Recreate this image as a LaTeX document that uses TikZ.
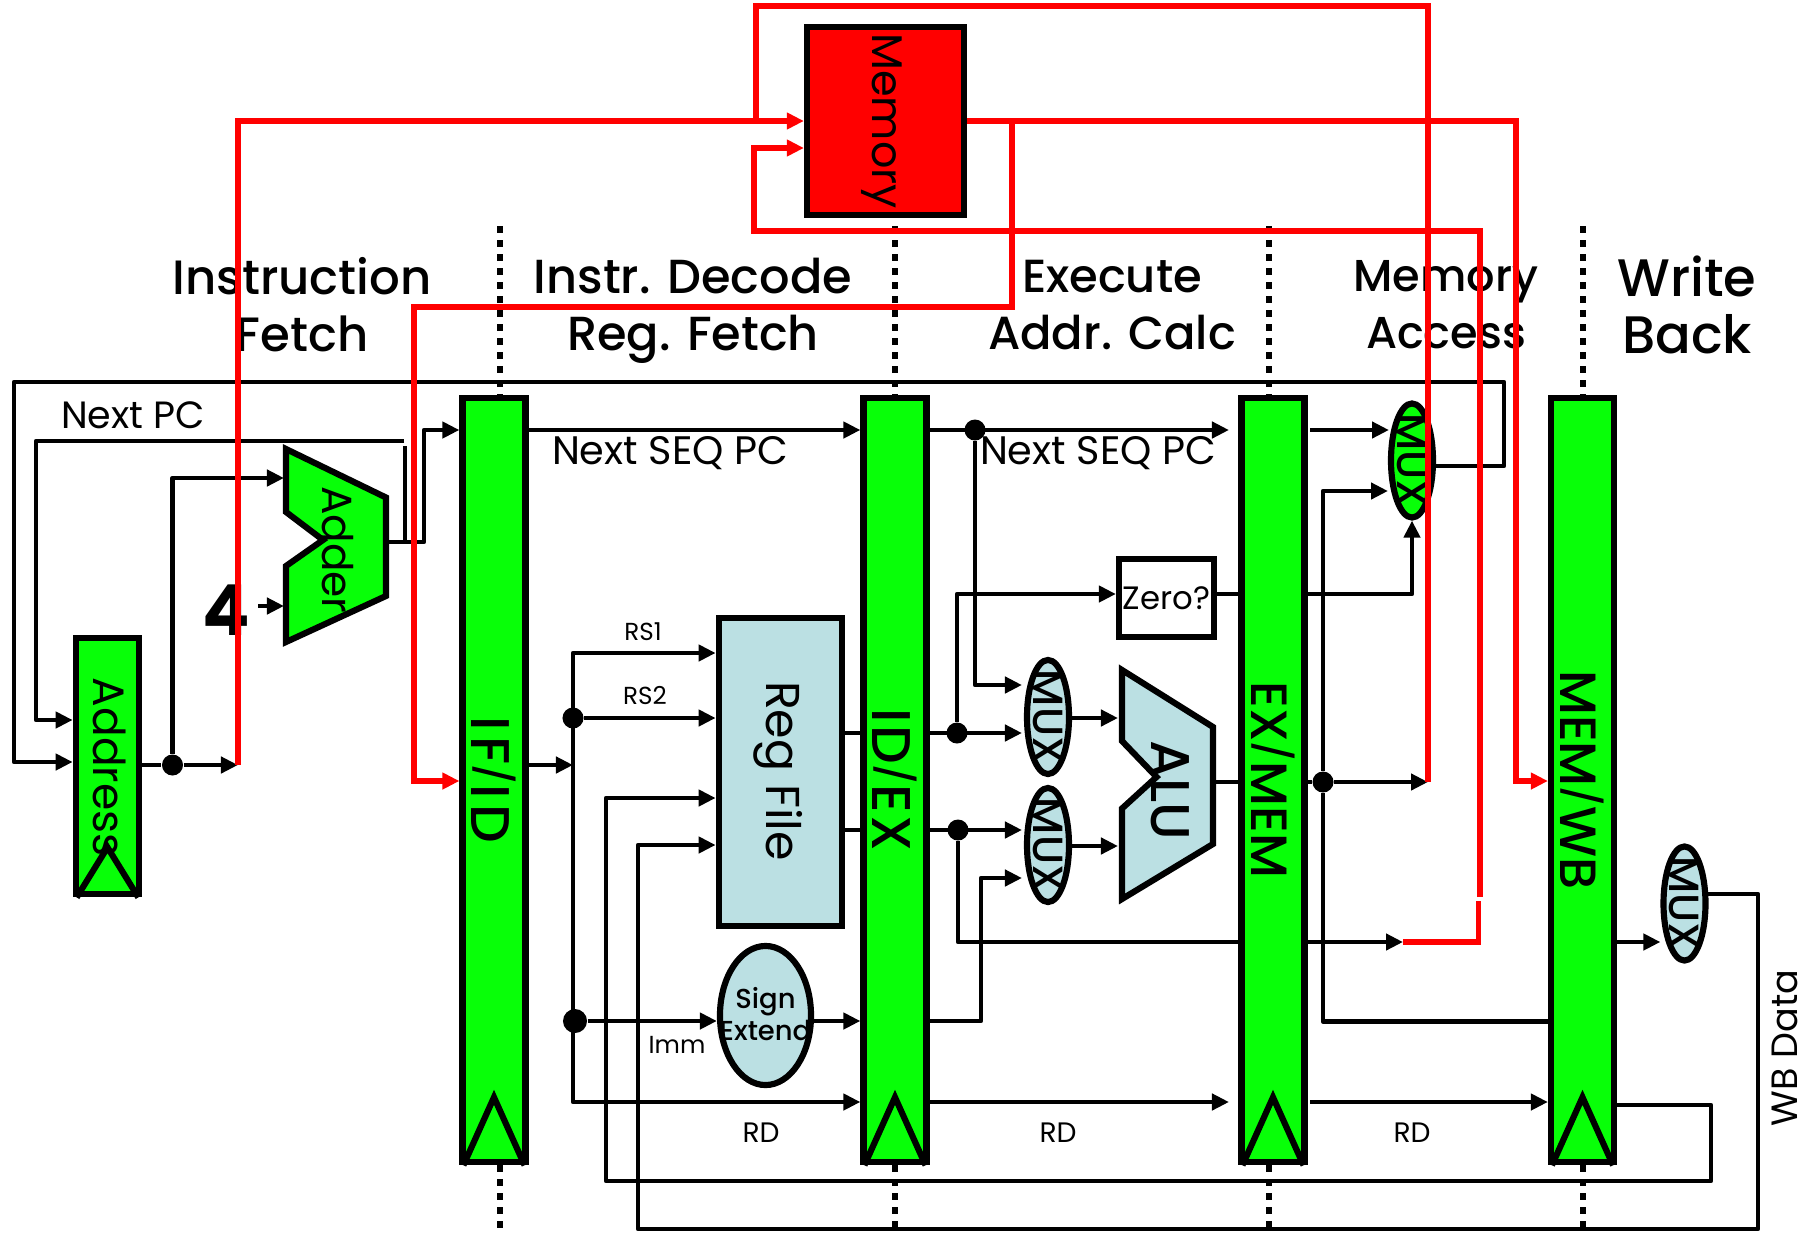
\documentclass[tikz,border=0pt]{standalone}
\usepackage{xcolor}
\usepackage{fontspec}
\setmainfont{Poppins}
\newfontfamily\medfont{Poppins Medium}
\usetikzlibrary{arrows.meta,shapes.geometric}

\definecolor{stagegreen}{RGB}{8,255,8}
\definecolor{paleblue}{RGB}{187,224,227}

\tikzset{
        wire/.style={draw, line width=1.35pt, line join=round},
        arrow/.style={wire, -{Triangle[length=0.17cm,width=0.16cm]}},
        redwire/.style={draw=red, line width=1.6pt, line join=miter},
        redarrow/.style={redwire, -{Triangle[length=0.17cm,width=0.16cm]}},
        sepline/.style={draw, line width=1.7pt, dash pattern=on 0.07cm off 0.07cm},
        dot/.style={circle, fill=black, inner sep=0pt, minimum size=0.21cm},
        unit/.style={draw, line width=1.75pt, line join=miter},
        reg/.style={unit, rectangle, fill=stagegreen, minimum width=0.63cm, minimum height=7.64cm},
        mux/.style={unit, ellipse, inner sep=0pt, minimum width=0.42cm, minimum height=1.14cm},
        muxtext/.style={rotate=-90, font=\medfont\fontsize{12}{12}\selectfont},
        regtext/.style={rotate=-90, font=\medfont\fontsize{14.5}{14.5}\selectfont},
        stagetext/.style={align=center, font=\medfont\fontsize{13.6}{16.2}\selectfont},
        smalltext/.style={font=\fontsize{7}{7}\selectfont},
        midtext/.style={font=\fontsize{10.8}{10.8}\selectfont}
}

\newcommand{\clktri}[2]{\draw[unit] ([xshift=0.04cm]#1.south west) -- ([yshift=#2]#1.south) -- ([xshift=-0.04cm]#1.south east);}
\newcommand{\regslash}{\raisebox{0.14em}{\fontsize{11}{11}\selectfont/}}

\begin{document}
\begin{tikzpicture}[x=0.01cm,y=-0.01cm]
        \useasboundingbox (0,0) rectangle (1808,1233);

        \coordinate (septop) at (0,226);
        \coordinate (sepbot) at (0,1233);

        \node[reg] (ifid) at (494,780) {};
        \node[reg] (idex) at (895,780) {};
        \node[reg] (exmem) at (1273,780) {};
        \node[reg] (memwb) at (1582.5,780) {};

        \node[unit, rectangle, fill=stagegreen, minimum width=0.635cm, minimum height=2.565cm] (pcreg) at (107.5,766) {};
        \node[unit, rectangle, fill=paleblue, minimum width=1.235cm, minimum height=3.085cm] (regfile) at (780.5,772) {};
        \node[unit, rectangle, fill=red, minimum width=1.57cm, minimum height=1.88cm] (memory) at (885.5,121) {};
        \node[unit, rectangle, minimum width=0.95cm, minimum height=0.78cm, inner sep=0pt, font=\fontsize{9.2}{9.2}\selectfont] (zero) at (1166.5,598) {Zero?};
        \node[unit, ellipse, fill=paleblue, inner sep=0pt, minimum width=0.91cm, minimum height=1.39cm] (signext) at (765.5,1015.5) {};

        \node[mux, fill=stagegreen] (muxpc) at (1412,460.5) {};
        \node[mux, fill=paleblue] (muxa) at (1048,717) {};
        \node[mux, fill=paleblue] (muxb) at (1048,845) {};
        \node[mux, fill=paleblue] (muxwb) at (1684.5,903.5) {};

        \draw[unit, fill=stagegreen] (286,449) -- (386,497.5) -- (386,596) -- (286,642) -- (286,566) -- (323,540) -- (286,512) -- cycle;
        \draw[unit, fill=paleblue] (1122,670) -- (1213,727) -- (1213,844) -- (1122,899) -- (1122,808.5) -- (1156.5,777) -- (1122,741) -- cycle;

        \clktri{ifid}{0.68cm}
        \clktri{idex}{0.68cm}
        \clktri{exmem}{0.68cm}
        \clktri{memwb}{0.68cm}
        \clktri{pcreg}{0.5cm}

        \draw[sepline] ([xshift=0.06cm]ifid.north |- septop) -- ([xshift=0.06cm]ifid.north);
        \draw[sepline] ([xshift=0.06cm]ifid.south) -- ([xshift=0.06cm]ifid.south |- sepbot);
        \draw[sepline] (idex.north |- septop) -- (idex.north);
        \draw[sepline] (idex.south) -- (idex.south |- sepbot);
        \draw[sepline] ([xshift=-0.04cm]exmem.north |- septop) -- ([xshift=-0.04cm]exmem.north);
        \draw[sepline] ([xshift=-0.04cm]exmem.south) -- ([xshift=-0.04cm]exmem.south |- sepbot);
        \draw[sepline] (memwb.north |- septop) -- (memwb.north);
        \draw[sepline] (memwb.south) -- (memwb.south |- sepbot);

        \node[dot] (pcdot) at (172.5,765) {};
        \node[dot] (seqdot) at (975,430) {};
        \node[dot] (rsadot) at (957,733) {};
        \node[dot] (rsbdot) at (958,830) {};
        \node[dot] (aludot) at (1323,782) {};
        \node[dot] (rstwodot) at (573,718) {};
        \node[dot, minimum size=0.24cm] (immdot) at (575,1021) {};

        \coordinate (looptr) at (1504,382);
        \coordinate (looptl) at (14,382);
        \coordinate (branchy) at (0,466);
        \coordinate (addry) at (0,762);
        \coordinate (nextpcend) at (404,441);
        \coordinate (nextpcleft) at (36,441);
        \coordinate (nextpcy) at (0,720);
        \coordinate (stubtop) at (405,446);
        \coordinate (stubbot) at (405,542);
        \coordinate (adderout) at (386,542);
        \coordinate (addercorner) at (424,542);
        \coordinate (seqy) at (0,430);
        \coordinate (addera) at (284,478);
        \coordinate (adderb) at (284,606);
        \coordinate (fourout) at (258,606);
        \coordinate (redleft) at (238,765);
        \coordinate (redtop) at (238,121);
        \coordinate (spine) at (573,765);
        \coordinate (rsoney) at (0,653);
        \coordinate (rdy) at (0,1102);
        \coordinate (writea) at (606,798);
        \coordinate (writeb) at (638,845);
        \coordinate (rdback) at (1711,1105);
        \coordinate (rdbottom) at (606,1181);
        \coordinate (wbout) at (1708,894);
        \coordinate (wbright) at (1758,894);
        \coordinate (wbbottom) at (638,1229);
        \coordinate (muxaa) at (1022,685);
        \coordinate (muxab) at (1022,733);
        \coordinate (muxba) at (1022,830);
        \coordinate (muxbb) at (1022,878);
        \coordinate (bypass) at (981,878);
        \coordinate (aluina) at (1118,718);
        \coordinate (aluinb) at (1118,846);
        \coordinate (aluout) at (1213,782);
        \coordinate (zeroy) at (0,594);
        \coordinate (seqend) at (1229,430);
        \coordinate (muxpca) at (1389,430);
        \coordinate (muxpcb) at (1388,491);
        \coordinate (exseq) at (1310,430);
        \coordinate (redalu) at (1428,782);
        \coordinate (redwbend) at (1403,942);
        \coordinate (wbrail) at (0,1021.5);
        \coordinate (muxwbin) at (0,942);
        \coordinate (rdend) at (1229,1102);
        \coordinate (exrd) at (1310,1102);

        \draw[arrow] (muxpc.east |- branchy) -| (looptr) -- (looptl) |- (pcreg.west |- addry);
        \draw[arrow] (nextpcend) -- (nextpcleft) |- (pcreg.west |- nextpcy);
        \draw[wire] (stubtop) -- (stubbot);
        \draw[arrow] (adderout) -- (addercorner) |- (ifid.west |- seqy);
        \draw[wire] (pcreg.east |- pcdot) -- (pcdot);
        \draw[arrow] (pcdot) -- (redleft);
        \draw[arrow] (pcdot) |- (addera);
        \draw[arrow] (fourout) -- (adderb);

        \draw[arrow] (ifid.east |- seqy) -- (idex.west |- seqy);
        \draw[arrow] (ifid.east |- spine) -- (spine);
        \draw[arrow] (spine) |- (regfile.west |- rsoney);
        \draw[arrow] (spine) |- (idex.west |- rdy);
        \draw[arrow] (rstwodot) -- (regfile.west |- rstwodot);
        \draw[arrow] (immdot) -- (signext.west |- immdot);
        \draw[arrow] (signext.east |- immdot) -- (idex.west |- immdot);
        \draw[arrow] (memwb.east |- rdback) -- (rdback) |- (rdbottom) |- (regfile.west |- writea);
        \draw[arrow] (wbout) -- (wbright) |- (wbbottom) |- (regfile.west |- writeb);
        \draw[wire] (regfile.east |- rsadot) -- (idex.west |- rsadot);
        \draw[wire] (regfile.east |- rsbdot) -- (idex.west |- rsbdot);

        \draw[arrow] (idex.east |- seqdot) -- (seqend);
        \draw[arrow] (seqdot) |- (muxaa);
        \draw[arrow] (idex.east |- rsadot) -- (muxab);
        \draw[arrow] (rsadot) |- (zero.west |- zeroy);
        \draw[arrow] (idex.east |- rsbdot) -- (muxba);
        \draw[wire] (rsbdot) |- (exmem.west |- redwbend);
        \draw[arrow] (idex.east |- immdot) -| (bypass) -- (muxbb);
        \draw[arrow] (muxa.east |- aluina) -- (aluina);
        \draw[arrow] (muxb.east |- aluinb) -- (aluinb);
        \draw[wire] (aluout) -- (exmem.west |- aluout);
        \draw[wire] (zero.east |- zeroy) -- (exmem.west |- zeroy);
        \draw[arrow] (idex.east |- rdy) -- (rdend);

        \draw[arrow] (exseq) -- (muxpca);
        \draw[arrow] (aludot) |- (muxpcb);
        \draw[wire] (aludot) |- (memwb.west |- wbrail);
        \draw[arrow] (exmem.east |- zeroy) -| (muxpc.south);
        \draw[wire] (exmem.east |- aludot) -- (aludot);
        \draw[arrow] (aludot) -- (redalu);
        \draw[arrow] (exmem.east |- redwbend) -- (redwbend);
        \draw[arrow] (exrd) -- (memwb.west |- rdy);
        \draw[arrow] (memwb.east |- muxwbin) -- (muxwb.west |- muxwbin);

        \node[muxtext] (muxpclabel) at (muxpc) {MUX};
        \node[muxtext] (muxalabel) at (muxa) {MUX};
        \node[muxtext] (muxblabel) at (muxb) {MUX};
        \node[muxtext] (muxwblabel) at (muxwb) {MUX};
        \node[regtext, font=\medfont\fontsize{15.5}{15.5}\addfontfeature{LetterSpace=11}\selectfont] (ifidlabel) at (ifid) {IF\regslash ID};
        \node[regtext, font=\medfont\fontsize{15.5}{15.5}\addfontfeature{LetterSpace=5}\selectfont] (idexlabel) at (idex) {ID\regslash EX};
        \node[regtext] (exmemlabel) at (exmem) {EX\regslash MEM};
        \node[regtext] (memwblabel) at (memwb) {MEM\regslash WB};
        \node[regtext, font=\fontsize{12.2}{12.2}\selectfont] (memorylabel) at (882,121) {Memory};
        \node[regtext, font=\fontsize{13.5}{13.5}\selectfont] (regfilelabel) at (778,771) {Reg File};
        \node[regtext, font=\fontsize{12}{12}\selectfont] (adderlabel) at (338,550) {Adder};
        \node[regtext, font=\fontsize{12.5}{12.5}\selectfont] (pclabel) at (110,767) {Address};
        \node[regtext, font=\medfont\fontsize{15.5}{15.5}\selectfont] (alulabel) at (1170,790) {ALU};
        \node[font=\bfseries\fontsize{20}{20}\selectfont] (four) at (226,610) {4};
        \node[midtext] (nextpclabel) at (133,415) {Next PC};
        \node[midtext, font=\fontsize{11.3}{11.3}\selectfont] (seqa) at (670,453) {Next SEQ PC};
        \node[midtext, font=\fontsize{11.3}{11.3}\selectfont] (seqb) at (1098,453) {Next SEQ PC};
        \node[smalltext] (rsonelabel) at (643,632) {RS1};
        \node[smalltext] (rstwolabel) at (645,696) {RS2};
        \node[smalltext] (immlabel) at (677,1045) {Imm};
        \node[align=center, font=\medfont\fontsize{7.8}{9}\selectfont] (signlabel) at (765.5,1014) {Sign\\Extend};
        \node[font=\fontsize{8}{8}\selectfont] (rda) at (761,1133) {RD};
        \node[font=\fontsize{8}{8}\selectfont] (rdb) at (1058,1133) {RD};
        \node[font=\fontsize{8}{8}\selectfont] (rdc) at (1412,1133) {RD};
        \node[midtext, font=\fontsize{10.4}{10.4}\selectfont, rotate=90] (wbdata) at (1785,1048) {WB Data};
        \node[stagetext, font=\medfont\fontsize{13.7}{16.2}\selectfont] (stagea) at (302,305) {Instruction\\Fetch};
        \node[stagetext] (stageb) at (693,311) {Instr. Decode\\Reg. Fetch};
        \node[stagetext, font=\medfont\fontsize{13.2}{16.2}\selectfont] (stagec) at (1112,305) {Execute\\Addr. Calc};
        \node[stagetext, font=\medfont\fontsize{12.7}{16.2}\selectfont] (staged) at (1446,305) {Memory\\Access};
        \node[stagetext, font=\medfont\fontsize{15}{16.2}\selectfont] (stagee) at (1687,305) {Write\\Back};

        \coordinate (redmidtop) at (1012,307);
        \coordinate (redmidleft) at (414,307);
        \coordinate (redif) at (0,781);
        \coordinate (redwbtop) at (1516,121);
        \coordinate (redtopright) at (1428,6);
        \coordinate (redtopleft) at (756,6);
        \coordinate (redjoin) at (756,121);
        \coordinate (redstub) at (1478.5,901);
        \coordinate (redup) at (1480,897);
        \coordinate (redupright) at (1480,231);
        \coordinate (redupleft) at (754,231);
        \coordinate (redinb) at (0,148);

        \draw[redarrow] (redleft) -- (redtop) -- (memory.west);
        \draw[redarrow] (memory.east) -| (redmidtop) -- (redmidleft) |- (ifid.west |- redif);
        \draw[redarrow] (memory.east) -- (redwbtop) |- (memwb.west |- redif);
        \draw[redwire] (redalu) -- (redtopright) -- (redtopleft) -- (redjoin);
        \draw[redwire] (redwbend) -| (redstub);
        \draw[redarrow] (redup) -- (redupright) -- (redupleft) |- (memory.west |- redinb);
\end{tikzpicture}
\end{document}
